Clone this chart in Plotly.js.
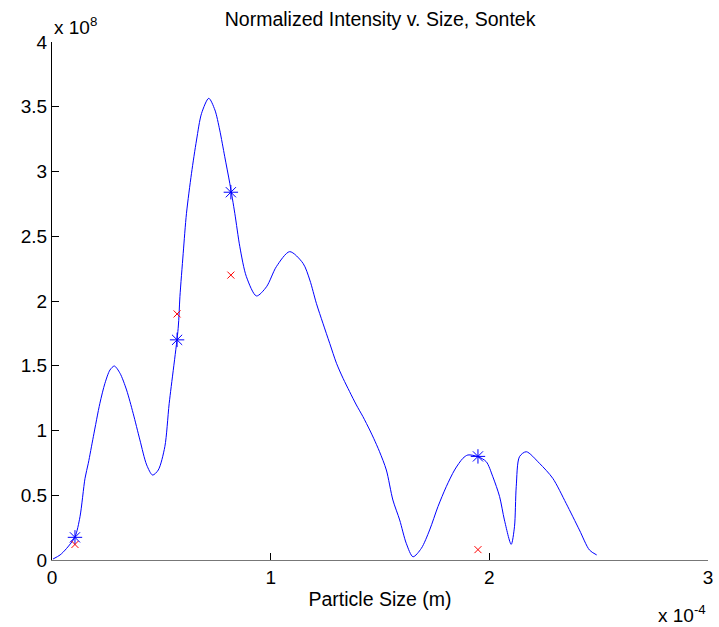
<!DOCTYPE html>
<html>
<head>
<meta charset="utf-8">
<script src="https://cdn.plot.ly/plotly-3.0.1.min.js"></script>
<style>html,body{margin:0;padding:0;background:#fff;}#chart{width:719px;height:627px;}</style>
</head>
<body>
<div id="chart"></div>
<script>
// Particle size in units of 1e-4 m, intensity in units of 1e8
const sizeCurve = [0.005,0.037,0.067,0.105,0.128,0.151,0.166,0.189,0.219,0.242,0.265,0.285,0.311,0.341,0.371,0.402,0.433,0.460,0.486,0.516,0.536,0.577,0.585,0.600,0.615,0.638,0.661,0.684,0.717,0.745,0.767,0.790,0.813,0.836,0.859,0.889,0.935,0.981,1.026,1.087,1.148,1.179,1.209,1.239,1.270,1.301,1.331,1.361,1.392,1.422,1.453,1.471,1.498,1.529,1.559,1.590,1.620,1.651,1.689,1.727,1.765,1.803,1.841,1.879,1.902,1.948,1.986,2.016,2.047,2.069,2.100,2.115,2.123,2.138,2.169,2.229,2.290,2.351,2.412,2.458,2.491];
const intensityCurve = [0.008,0.039,0.090,0.178,0.334,0.631,0.747,0.952,1.210,1.364,1.467,1.498,1.442,1.313,1.133,0.927,0.734,0.656,0.695,0.875,1.210,1.789,2.033,2.368,2.677,2.986,3.243,3.449,3.565,3.475,3.320,3.114,2.909,2.677,2.419,2.188,2.039,2.110,2.265,2.381,2.291,2.162,1.982,1.828,1.673,1.519,1.403,1.300,1.197,1.107,1.004,0.940,0.836,0.695,0.463,0.309,0.129,0.025,0.090,0.232,0.412,0.566,0.695,0.785,0.811,0.798,0.759,0.643,0.489,0.309,0.121,0.257,0.566,0.798,0.836,0.747,0.631,0.438,0.232,0.077,0.039];
const starSize = [0.105,0.572,0.818,1.948];
const starIntensity = [0.175,1.70,2.84,0.80];
const crossSize = [0.105,0.572,0.818,1.948];
const crossIntensity = [0.12,1.90,2.20,0.08];
const xTicks = [0,1,2,3];
const yTicks = [0,0.5,1,1.5,2,2.5,3,3.5,4];
const yTickText = ['0','0.5','1','1.5','2','2.5','3','3.5','4'];

const font = 'Liberation Sans, Arial, sans-serif';
const traces = [
  {x: sizeCurve, y: intensityCurve, mode: 'lines', line: {color: '#0000ff', width: 1, shape: 'spline', smoothing: 0.8}, hoverinfo: 'skip'},
  {x: starSize, y: starIntensity, mode: 'markers', marker: {symbol: 'asterisk-open', size: 12, color: '#0000ff', line: {color: '#0000ff', width: 1}}},
  {x: crossSize, y: crossIntensity, mode: 'markers', marker: {symbol: 'x-thin-open', size: 7, color: '#ff0000', line: {color: '#ff0000', width: 1}}}
];
const layout = {
  width: 719, height: 627,
  margin: {l: 52, r: 11, t: 42, b: 67},
  paper_bgcolor: '#fff', plot_bgcolor: '#fff',
  showlegend: false,
  font: {family: font, size: 19, color: '#000'},
  title: {text: 'Normalized Intensity v. Size, Sontek', font: {family: font, size: 19.5, color: '#000'}, x: 0.5286, xanchor: 'center', y: 0.97, yanchor: 'middle'},
  xaxis: {
    range: [0, 3], tickvals: xTicks, ticktext: xTicks.map(String),
    ticks: 'inside', ticklen: 7, tickcolor: '#000', showgrid: false, zeroline: false,
    showline: true, linecolor: '#777', linewidth: 1, mirror: false,
    tickfont: {family: font, size: 19},
    title: {text: 'Particle Size (m)', font: {family: font, size: 19.5}, standoff: 5}
  },
  yaxis: {
    range: [0, 4], tickvals: yTicks, ticktext: yTickText,
    ticks: 'inside', ticklen: 7, tickcolor: '#000', showgrid: false, zeroline: false,
    showline: true, linecolor: '#000', linewidth: 1, mirror: false,
    tickfont: {family: font, size: 19}
  },
  annotations: [
    {xref: 'paper', yref: 'paper', x: 0, y: 1, xanchor: 'left', yanchor: 'bottom', yshift: 2, text: 'x 10<sup>8</sup>', showarrow: false, font: {family: font, size: 19}},
    {xref: 'paper', yref: 'paper', x: 1, y: 0, xanchor: 'right', yanchor: 'top', yshift: -40, text: 'x 10<sup>-4</sup>', showarrow: false, font: {family: font, size: 19}}
  ]
};
Plotly.newPlot('chart', traces, layout, {displayModeBar: false, staticPlot: true});
</script>
</body>
</html>
